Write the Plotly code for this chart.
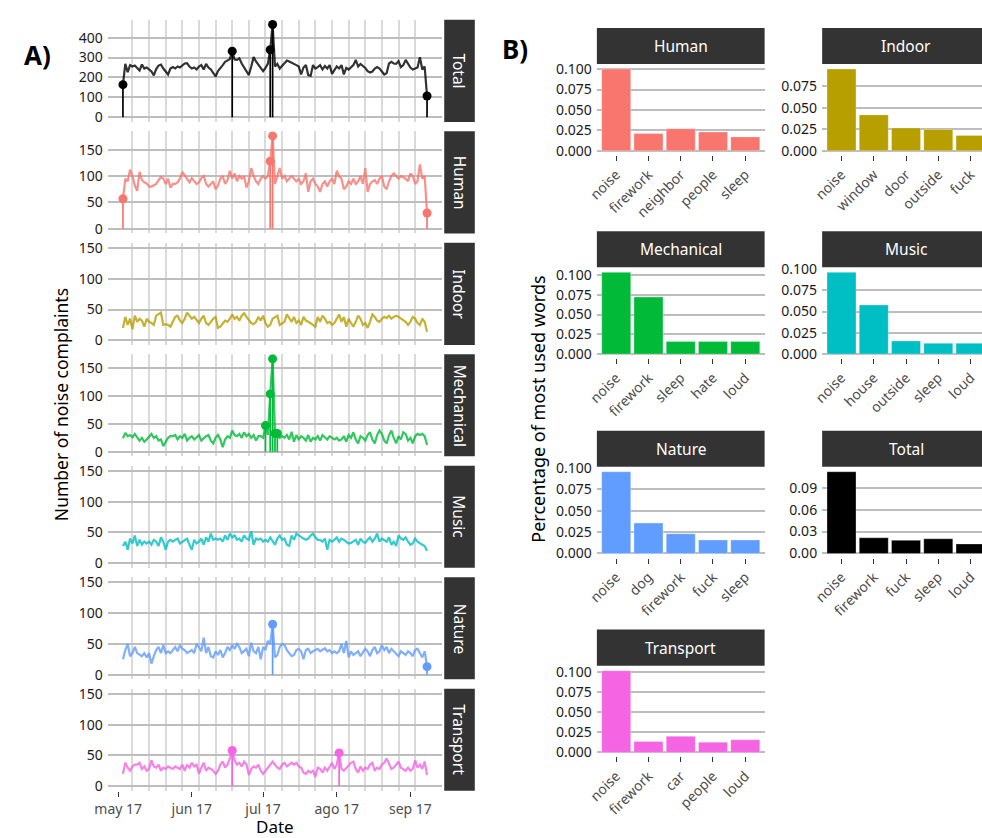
import pandas as pd
import plotly.graph_objects as go

W, H = 982, 838
FONT = "Noto Sans"

# ---------------- Panel A data (daily complaints, May 3 - Sep 8 2017) ----------------
start_date = "2017-05-03"

total = [
    164, 268, 227, 262, 255, 260, 248, 235, 265, 245,
    250, 240, 230, 210, 242, 260, 265, 245, 230, 215,
    245, 252, 245, 255, 250, 260, 270, 272, 255, 245,
    250, 240, 255, 262, 240, 268, 250, 240, 225, 205,
    232, 250, 262, 278, 285, 292, 332, 290, 288, 296,
    270, 250, 236, 212, 255, 302, 280, 262, 245, 232,
    248, 268, 339, 466, 255, 268, 245, 258, 272, 285,
    280, 275, 270, 262, 255, 215, 250, 262, 212, 208,
    262, 245, 252, 262, 240, 258, 245, 262, 218, 236,
    255, 245, 262, 215, 248, 240, 252, 262, 288, 255,
    268, 258, 248, 232, 225, 230, 245, 252, 245, 230,
    215, 222, 270, 278, 270, 268, 282, 252, 262, 288,
    270, 250, 240, 246, 250, 302, 240, 255, 107]

human = [
    57, 95, 90, 112, 100, 82, 72, 108, 92, 88,
    86, 80, 80, 82, 85, 92, 98, 95, 85, 95,
    78, 85, 85, 88, 95, 108, 102, 95, 88, 96,
    90, 85, 88, 96, 100, 85, 80, 85, 90, 75,
    82, 95, 100, 85, 92, 110, 95, 105, 90, 100,
    95, 100, 78, 90, 115, 100, 90, 85, 95, 100,
    95, 100, 128, 176, 85, 100, 115, 95, 100, 90,
    95, 100, 95, 90, 95, 85, 90, 105, 70, 90,
    95, 85, 80, 70, 85, 90, 80, 90, 95, 85,
    110, 100, 95, 75, 80, 90, 85, 95, 85, 90,
    100, 85, 115, 70, 85, 90, 92, 85, 95, 100,
    80, 75, 90, 100, 105, 100, 95, 100, 98, 95,
    90, 105, 100, 85, 90, 122, 95, 100, 30]

indoor = [
    20, 38, 25, 35, 18, 40, 30, 35, 32, 22,
    35, 30, 28, 25, 40, 42, 45, 25, 26, 25,
    22, 30, 38, 40, 32, 28, 35, 45, 40, 35,
    38, 32, 28, 35, 40, 28, 25, 30, 35, 38,
    20, 22, 28, 32, 30, 35, 42, 35, 38, 32,
    40, 44, 38, 32, 28, 26, 30, 38, 32, 40,
    28, 22, 25, 35, 38, 40, 25, 28, 30, 42,
    35, 30, 38, 28, 32, 25, 38, 32, 30, 28,
    25, 22, 38, 30, 40, 35, 28, 30, 25, 28,
    35, 42, 30, 38, 22, 35, 28, 22, 30, 40,
    35, 25, 28, 20, 30, 42, 38, 32, 30, 35,
    38, 36, 40, 35, 38, 40, 38, 35, 32, 30,
    25, 30, 38, 35, 28, 25, 35, 30, 14]

mechanical = [
    24, 34, 28, 30, 26, 32, 26, 20, 25, 18,
    22, 28, 32, 25, 28, 20, 22, 10, 18, 25,
    28, 28, 30, 22, 28, 25, 32, 20, 25, 28,
    22, 26, 30, 20, 25, 28, 30, 20, 15, 25,
    30, 22, 8, 22, 28, 25, 38, 30, 28, 32,
    25, 35, 28, 32, 25, 30, 20, 28, 28, 25,
    47, 30, 104, 167, 33, 33, 25, 28, 25, 30,
    22, 36, 18, 30, 22, 28, 25, 20, 30, 18,
    25, 22, 28, 20, 30, 25, 22, 28, 25, 22,
    25, 20, 22, 28, 18, 30, 25, 35, 22, 15,
    28, 25, 20, 30, 35, 22, 15, 30, 38, 32,
    20, 15, 30, 38, 25, 15, 28, 22, 35, 32,
    20, 25, 15, 28, 32, 30, 32, 28, 12]

music = [
    28, 35, 22, 40, 32, 45, 28, 38, 30, 35,
    32, 35, 30, 38, 35, 28, 42, 35, 22, 35,
    38, 35, 38, 40, 32, 35, 38, 40, 30, 22,
    38, 32, 35, 40, 30, 42, 35, 48, 38, 40,
    38, 40, 35, 45, 38, 48, 42, 45, 38, 40,
    35, 45, 40, 38, 52, 30, 40, 38, 40, 35,
    38, 35, 42, 35, 30, 40, 45, 38, 40, 30,
    28, 45, 38, 48, 45, 42, 40, 38, 40, 45,
    48, 42, 38, 38, 35, 40, 22, 38, 35, 38,
    42, 35, 40, 38, 35, 32, 33, 35, 38, 30,
    40, 35, 33, 38, 42, 35, 40, 48, 35, 40,
    38, 35, 42, 30, 35, 28, 45, 40, 38, 42,
    35, 30, 32, 40, 35, 32, 30, 28, 20]

nature = [
    25, 40, 50, 30, 35, 45, 35, 32, 30, 35,
    28, 35, 18, 30, 40, 45, 35, 48, 35, 38,
    35, 40, 45, 38, 48, 42, 40, 35, 38, 40,
    35, 50, 45, 38, 60, 35, 45, 30, 28, 38,
    32, 40, 28, 35, 45, 40, 48, 42, 50, 45,
    35, 38, 42, 30, 52, 38, 35, 45, 25, 45,
    40, 55, 50, 82, 28, 32, 45, 50, 48, 40,
    35, 30, 32, 40, 42, 38, 25, 40, 42, 35,
    38, 40, 42, 38, 40, 43, 38, 40, 35, 38,
    35, 38, 50, 35, 55, 28, 38, 32, 35, 38,
    30, 35, 42, 38, 30, 40, 45, 35, 38, 48,
    40, 45, 35, 42, 38, 35, 30, 38, 35, 32,
    38, 35, 30, 40, 42, 35, 28, 38, 13]

transport = [
    20, 38, 30, 25, 32, 35, 35, 38, 28, 32,
    25, 28, 42, 32, 30, 35, 25, 30, 28, 32,
    30, 28, 32, 30, 28, 35, 25, 35, 30, 38,
    32, 35, 20, 30, 38, 25, 30, 28, 25, 20,
    25, 35, 40, 30, 35, 45, 58, 42, 35, 38,
    32, 40, 35, 18, 28, 32, 30, 35, 25, 20,
    25, 30, 35, 40, 35, 30, 28, 35, 38, 32,
    35, 38, 35, 38, 32, 30, 22, 20, 25, 22,
    25, 15, 30, 28, 22, 30, 25, 32, 38, 28,
    35, 54, 28, 25, 30, 35, 38, 40, 28, 22,
    32, 25, 30, 28, 35, 38, 25, 30, 28, 35,
    38, 45, 35, 28, 30, 35, 40, 30, 28, 25,
    30, 25, 28, 42, 30, 35, 28, 40, 18]

# day indices flagged as anomalies (drawn as lollipops)
outliers = {
    "Total": [0, 46, 62, 63, 128],
    "Human": [0, 62, 63, 128],
    "Indoor": [],
    "Mechanical": [60, 62, 63, 64, 65],
    "Music": [],
    "Nature": [63, 128],
    "Transport": [46, 91],
}

month_ticks = ["2017-05-01", "2017-06-01", "2017-07-01", "2017-08-01", "2017-09-01"]
month_labels = ["may 17", "jun 17", "jul 17", "ago 17", "sep 17"]

# ---------------- Panel B data (share of most used words) ----------------
words_human = ["noise", "firework", "neighbor", "people", "sleep"]
pct_human = [0.100, 0.021, 0.027, 0.023, 0.017]
words_indoor = ["noise", "window", "door", "outside", "fuck"]
pct_indoor = [0.0947, 0.0416, 0.0265, 0.0246, 0.0178]
words_mech = ["noise", "firework", "sleep", "hate", "loud"]
pct_mech = [0.1034, 0.0721, 0.0158, 0.0158, 0.0158]
words_music = ["noise", "house", "outside", "sleep", "loud"]
pct_music = [0.0961, 0.0577, 0.0154, 0.0127, 0.0127]
words_nature = ["noise", "dog", "firework", "fuck", "sleep"]
pct_nature = [0.0955, 0.0355, 0.0229, 0.0157, 0.0157]
words_total = ["noise", "firework", "fuck", "sleep", "loud"]
pct_total = [0.112, 0.0215, 0.018, 0.020, 0.013]
words_transport = ["noise", "firework", "car", "people", "loud"]
pct_transport = [0.1016, 0.0136, 0.0201, 0.0127, 0.0157]

colors = {
    "Total": "#000000", "Human": "#F8766D", "Indoor": "#B79F00",
    "Mechanical": "#00BA38", "Music": "#00BFC4", "Nature": "#619CFF",
    "Transport": "#F564E3",
}

series = {
    "Total": total, "Human": human, "Indoor": indoor, "Mechanical": mechanical,
    "Music": music, "Nature": nature, "Transport": transport,
}
a_order = ["Total", "Human", "Indoor", "Mechanical", "Music", "Nature", "Transport"]

words = {
    "Human": (words_human, pct_human), "Indoor": (words_indoor, pct_indoor),
    "Mechanical": (words_mech, pct_mech), "Music": (words_music, pct_music),
    "Nature": (words_nature, pct_nature), "Total": (words_total, pct_total),
    "Transport": (words_transport, pct_transport),
}
b_order = ["Human", "Indoor", "Mechanical", "Music", "Nature", "Total", "Transport"]

# ---------------- build figure ----------------
dates = pd.date_range(start_date, periods=len(total), freq="D")
span = dates[-1] - dates[0]
xr0 = dates[0] - 0.05 * span
xr1 = dates[-1] + 0.05 * span
week_lines = [d.strftime("%Y-%m-%d") for d in pd.date_range("2017-05-07", "2017-09-03", freq="7D")]


def axkey(prefix, n):
    return prefix if n == 1 else f"{prefix}{n}"


def ydom(top, bot):
    return [1 - bot / H, 1 - top / H]


fig = go.Figure()
layout = {}
shapes = []
annotations = []
STRIP = "#333333"

# Panel A
A_x0, A_x1 = 96, 435
A_top0, A_pitch, A_h = 10, 113.5, 104
for i, cat in enumerate(a_order):
    n = i + 1
    top = A_top0 + i * A_pitch
    bot = top + A_h
    vals = series[cat]
    col = colors[cat]
    xr, yr = axkey("x", n), axkey("y", n)
    ymax = max(max(vals), 151)
    last = i == len(a_order) - 1
    layout[axkey("xaxis", n)] = dict(
        domain=[A_x0 / W, A_x1 / W], anchor=yr, type="date",
        range=[xr0, xr1], showgrid=False, zeroline=False, showline=False,
        tickmode="array", tickvals=month_ticks, ticktext=month_labels,
        showticklabels=last, ticks="outside" if last else "", ticklen=5,
        tickwidth=1.3, tickcolor="#333333",
        tickfont=dict(size=14, color="#4d4d4d", family=FONT),
        minor=dict(tickvals=week_lines, showgrid=True, gridcolor="#dadada",
                   gridwidth=1.5, ticks=""),
    )
    layout[axkey("yaxis", n)] = dict(
        domain=ydom(top, bot), anchor=xr,
        range=[-0.05 * ymax, 1.05 * ymax], tickmode="linear", tick0=0,
        dtick=100 if cat == "Total" else 50, showgrid=True,
        gridcolor="#bdbdbd", gridwidth=1.5, zeroline=False, showline=False,
        ticks="", ticklabelstandoff=4,
        tickfont=dict(size=14, color="#1a1a1a", family=FONT),
    )
    fig.add_trace(go.Scatter(x=dates, y=vals, mode="lines",
                             line=dict(color=col, width=2.2), opacity=0.8,
                             xaxis=xr, yaxis=yr, hoverinfo="skip"))
    sx, sy = [], []
    for k in outliers[cat]:
        sx += [dates[k], dates[k], None]
        sy += [0, vals[k], None]
    if sx:
        fig.add_trace(go.Scatter(x=sx, y=sy, mode="lines",
                                 line=dict(color=col, width=1.7),
                                 xaxis=xr, yaxis=yr, hoverinfo="skip"))
        fig.add_trace(go.Scatter(x=[dates[k] for k in outliers[cat]],
                                 y=[vals[k] for k in outliers[cat]],
                                 mode="markers", marker=dict(color=col, size=9),
                                 xaxis=xr, yaxis=yr))
    # strip
    shapes.append(dict(type="rect", xref="paper", yref="paper",
                       x0=437 / W, x1=468 / W, y0=1 - bot / H, y1=1 - top / H,
                       fillcolor=STRIP, line=dict(width=0), layer="above"))
    annotations.append(dict(x=452.5 / W, y=1 - (top + bot) / 2 / H, xref="paper",
                            yref="paper", text=cat, textangle=90, showarrow=False,
                            font=dict(size=15.5, color="white", family=FONT),
                            xanchor="center", yanchor="middle"))

# Panel B
colsx = [(591.7, 761.7), (820.0, 982.0)]
row_tops = [56, 263, 466, 668.6]
B_h = 91.5
unit_px = 170 / 5.2
for j, cat in enumerate(b_order):
    n = 8 + j
    r, c = divmod(j, 2)
    x0p, x1p = colsx[c]
    top = row_tops[r]
    bot = top + B_h
    xr, yr = axkey("x", n), axkey("y", n)
    wl, pl = words[cat]
    M = max(pl)
    is_total = cat == "Total"
    layout[axkey("xaxis", n)] = dict(
        domain=[x0p / W, min(x1p / W, 1)], anchor=yr, type="category",
        range=[-0.6, -0.6 + (x1p - x0p) / unit_px], showgrid=False,
        zeroline=False, showline=False, ticks="outside", ticklen=5,
        tickwidth=1.3, tickcolor="#333333", tickangle=-45,
        tickfont=dict(size=14, color="#4d4d4d", family=FONT),
    )
    layout[axkey("yaxis", n)] = dict(
        domain=ydom(top, bot), anchor=xr, range=[-0.05 * M, 1.05 * M],
        tickmode="linear", tick0=0, dtick=0.03 if is_total else 0.025,
        tickformat=".2f" if is_total else ".3f", showgrid=True,
        gridcolor="#bdbdbd", gridwidth=1.5, zeroline=False, showline=False,
        ticks="", ticklabelstandoff=4,
        tickfont=dict(size=14, color="#1a1a1a", family=FONT),
    )
    fig.add_trace(go.Bar(x=wl, y=pl, width=0.9, marker=dict(color=colors[cat],
                         line=dict(color="rgba(255,255,255,0.5)", width=0.6)),
                         xaxis=xr, yaxis=yr))
    shapes.append(dict(type="rect", xref="paper", yref="paper",
                       x0=x0p / W, x1=min(x1p / W, 1), y0=1 - (top - 1) / H,
                       y1=1 - (top - 37.7) / H, fillcolor=STRIP,
                       line=dict(width=0), layer="above"))
    annotations.append(dict(x=(x0p + 85) / W, y=1 - (top - 19.3) / H, xref="paper",
                            yref="paper", text=cat, showarrow=False,
                            font=dict(size=15.5, color="white", family=FONT),
                            xanchor="center", yanchor="middle"))

# titles and panel labels
annotations += [
    dict(x=48 / W, y=1 - 402 / H, xref="paper", yref="paper",
         text="Number of noise complaints", textangle=-90, showarrow=False,
         font=dict(size=17.5, color="black", family=FONT),
         xanchor="center", yanchor="middle"),
    dict(x=266 / W, y=1 - 831 / H, xref="paper", yref="paper", text="Date",
         showarrow=False, font=dict(size=17, color="black", family=FONT),
         xanchor="center", yanchor="middle"),
    dict(x=532 / W, y=1 - 406 / H, xref="paper", yref="paper",
         text="Percentage of most used words", textangle=-90, showarrow=False,
         font=dict(size=18, color="black", family=FONT),
         xanchor="center", yanchor="middle"),
    dict(x=25 / W, y=1 - 46 / H, xref="paper", yref="paper", text="<b>A)</b>",
         showarrow=False, font=dict(size=26, color="black", family=FONT),
         xanchor="center", yanchor="middle"),
    dict(x=509 / W, y=1 - 40 / H, xref="paper", yref="paper", text="<b>B)</b>",
         showarrow=False, font=dict(size=26, color="black", family=FONT),
         xanchor="center", yanchor="middle"),
]

fig.update_layout(
    width=W, height=H, margin=dict(l=0, r=0, t=0, b=0),
    plot_bgcolor="white", paper_bgcolor="white", showlegend=False,
    font=dict(family=FONT, color="black"), bargap=0.1,
    shapes=shapes, annotations=annotations, **layout,
)

fig.write_html("out.html")
